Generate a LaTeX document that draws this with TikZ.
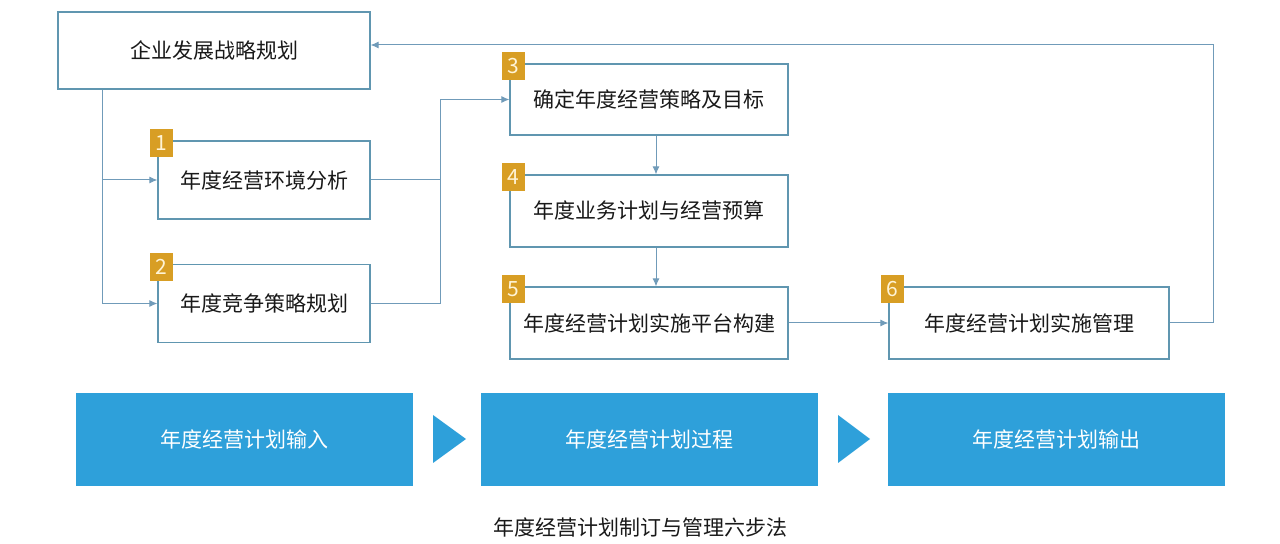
\documentclass[tikz,border=0pt]{standalone}
\usepackage{fontspec}
\newfontfamily\cjk{Noto Sans CJK SC}
\usepackage{tikz}
\usetikzlibrary{arrows.meta,positioning}

\definecolor{linegray}{RGB}{112,155,185}
\definecolor{boxline}{RGB}{96,150,176}
\definecolor{stepblue}{RGB}{46,160,218}
\definecolor{badgegold}{RGB}{216,158,36}
\definecolor{badgetext}{RGB}{255,244,214}

\begin{document}
\begin{tikzpicture}[
            x=0.5pt,y=-0.5pt,
            every node/.style={font=\cjk\fontsize{10.5}{12}\selectfont,text=black!90},
            task/.style={draw=boxline,line width=0.6pt,fill=white,inner sep=0pt,minimum height=36pt},
            badge/.style={fill=badgegold,text=badgetext,inner sep=0pt,minimum width=11.5pt,minimum height=14pt},
            phase/.style={fill=stepblue,text=white,inner sep=0pt,minimum width=168.5pt,minimum height=46.5pt},
            link/.style={draw=linegray,line width=0.5pt,-{Latex[length=4pt,width=3.5pt]}}
          ]
          \useasboundingbox (0,0) rectangle (1280,544);

          %planning boxes
          \node[task,minimum width=156pt,minimum height=38.5pt] (plan) at (214,50.5) {企业发展战略规划};
          \node[task,minimum width=106pt,minimum height=39pt] (s1) at (264,180) {年度经营环境分析};
          \node[task,minimum width=106pt,minimum height=39pt] (s2) at (264,303.5) {年度竞争策略规划};
          \node[task,minimum width=139pt,minimum height=35.5pt] (s3) at (649,99.5) {确定年度经营策略及目标};
          \node[task,minimum width=139pt] (s4) at (649,211) {年度业务计划与经营预算};
          \node[task,minimum width=139pt] (s5) at (649,323) {年度经营计划实施平台构建};
          \node[task,minimum width=140pt] (s6) at (1029,323) {年度经营计划实施管理};

          %badges
          \foreach \n in {1,...,6}
            \node[badge] (b\n) at ([xshift=2pt,yshift=-1.5pt]s\n.north west) {\n};

          %links
          \coordinate (fork) at ([xshift=22.5pt]plan.south west);
          \coordinate (join) at ([xshift=-34.5pt]s3.west);
          \path[link] (fork) |- (s1.west);
          \path[link] (fork) |- (s2.west);
          \draw[draw=linegray,line width=0.5pt] (s1.east) -- (s1.east -| join);
          \path[link] (s2.east) -| (join) -- (s3.west);
          \path[link] ([xshift=3.5pt]s3.south) -- ([xshift=3.5pt]s4.north);
          \path[link] ([xshift=3.5pt]s4.south) -- ([xshift=3.5pt]s5.north);
          \path[link] (s5.east) -- (s6.west);
          \path[link] (s6.east) -- ++(44,0) |- ([yshift=2.75pt]plan.east);

          %phases
          \node[phase] (input) at (244.5,439.5) {年度经营计划输入};
          \node[phase] (process) at (649.5,439.5) {年度经营计划过程};
          \node[phase] (output) at (1056.5,439.5) {年度经营计划输出};
          \fill[stepblue] (433,415) -- (466,439) -- (433,463) -- cycle;
          \fill[stepblue] (838,415) -- (870,439) -- (838,463) -- cycle;

          %caption
          \node (title) at (640,528) {年度经营计划制订与管理六步法};
      \end{tikzpicture}
\end{document}
